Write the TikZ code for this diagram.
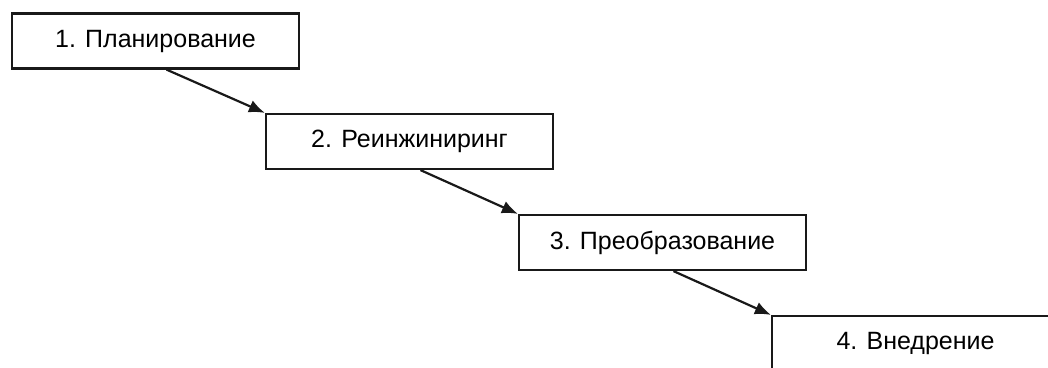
\documentclass[tikz,border=0pt]{standalone}
\usepackage{fontspec}
\setmainfont{Liberation Sans}
\usetikzlibrary{arrows.meta}
\begin{document}
\begin{tikzpicture}[x=1pt,y=-1pt,
  stagebox/.style={draw=black!90,line width=2.2pt,minimum width=287pt,minimum height=55pt,inner sep=0pt,font=\fontsize{25}{30}\selectfont,text=black},
  flow/.style={line width=2.2pt,draw=black!90,-{Latex[length=16pt,width=13pt]}}]
\useasboundingbox (0,0) rectangle (1048,367);
\clip (0,0) rectangle (1048,367);
\node[stagebox] (b1) at (155.5,41) {1. Планирование};
\node[stagebox] (b2) at (409.5,141.5) {2. Реинжиниринг};
\node[stagebox] (b3) at (662.5,242.5) {3. Преобразование};
\node[stagebox] (b4) at (915.5,343.5) {4. Внедрение};
\draw[flow] ([xshift=11pt]b1.south) -- (b2.north west);
\draw[flow] ([xshift=11pt]b2.south) -- (b3.north west);
\draw[flow] ([xshift=11pt]b3.south) -- (b4.north west);
\end{tikzpicture}
\end{document}
